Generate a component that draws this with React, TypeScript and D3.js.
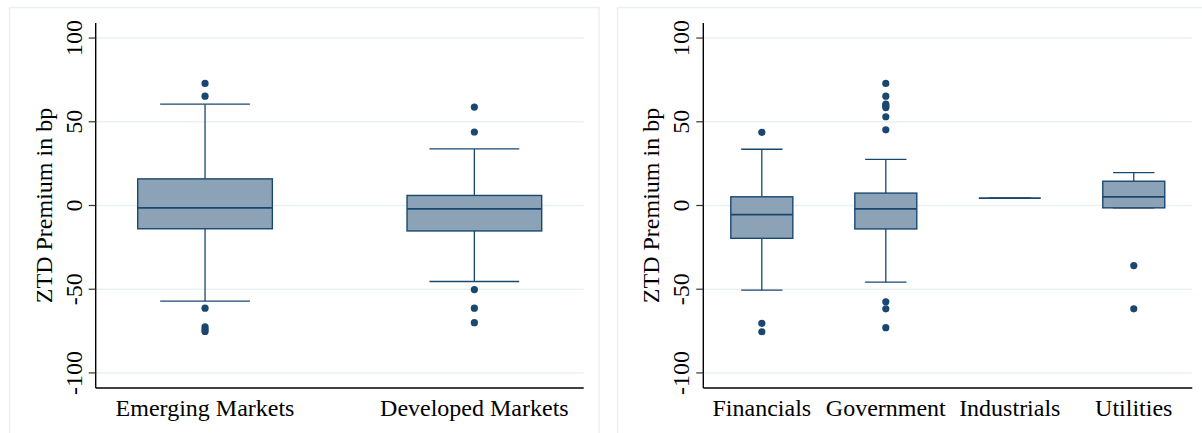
import React from 'react';
import { scaleLinear, scalePoint } from 'd3';

const width = 1202;
const height = 433;

// region split
const regionCats = ['Emerging Markets', 'Developed Markets'];
const regionQ1 = [-13.9, -15.2];
const regionMedian = [-1.4, -2];
const regionQ3 = [15.9, 6];
const regionLow = [-57.1, -45.4];
const regionHigh = [60.5, 33.8];
const regionOutliers = [
  [72.9, 65.3, -61.3, -72.5, -74, -75.2],
  [58.8, 43.9, -50.2, -61.3, -70],
];

// sector split
const sectorCats = ['Financials', 'Government', 'Industrials', 'Utilities'];
const sectorQ1 = [-19.6, -14, 4.4, -1.4];
const sectorMedian = [-5.4, -2, 4.4, 5.2];
const sectorQ3 = [5.2, 7.4, 4.4, 14.5];
const sectorLow = [-50.6, -45.8, 4.4, -1.4];
const sectorHigh = [33.6, 27.6, 4.4, 19.6];
const sectorOutliers = [
  [43.7, -70.4, -75.4],
  [72.9, 65.3, 60.5, 59.5, 58.5, 53, 45.2, -57.5, -61.7, -73],
  [],
  [-35.9, -61.7],
];

const yTicks = [-100, -50, 0, 50, 100];
const yTitle = 'ZTD Premium in bp';

const navy = '#1a476f';
const boxFill = '#8ca3b7';
const gridColor = '#eaf1f3';
const font = '"Liberation Serif", "Times New Roman", serif';

const plotTop = 23;
const plotBottom = 388;

type PanelProps = {
  frameX: number;
  frameW: number;
  left: number;
  right: number;
  pad: number;
  cats: string[];
  q1: number[];
  med: number[];
  q3: number[];
  lo: number[];
  hi: number[];
  out: number[][];
};

function Panel({ frameX, frameW, left, right, pad, cats, q1, med, q3, lo, hi, out }: PanelProps) {
  const y = scaleLinear().domain([-109, 109]).range([plotBottom, plotTop]);
  const x = scalePoint().domain(cats).range([left, right]).padding(pad);
  const boxW = x.step() * 0.5;
  const capW = boxW * 2 / 3;

  return (
    <g>
      <rect x={frameX} y={7.5} width={frameW} height={440} fill="white" stroke={gridColor} strokeWidth={1.5} />
      {yTicks.map(t => (
        <line key={'g' + t} x1={left} x2={right} y1={y(t)} y2={y(t)} stroke={gridColor} strokeWidth={1.5} />
      ))}
      {cats.map((c, i) => {
        const cx = x(c)!;
        return (
          <g key={c}>
            <line x1={cx} x2={cx} y1={y(hi[i])} y2={y(q3[i])} stroke={navy} strokeWidth={1.3} />
            <line x1={cx} x2={cx} y1={y(q1[i])} y2={y(lo[i])} stroke={navy} strokeWidth={1.3} />
            <line x1={cx - capW / 2} x2={cx + capW / 2} y1={y(hi[i])} y2={y(hi[i])} stroke={navy} strokeWidth={1.3} />
            <line x1={cx - capW / 2} x2={cx + capW / 2} y1={y(lo[i])} y2={y(lo[i])} stroke={navy} strokeWidth={1.3} />
            <rect
              x={cx - boxW / 2}
              y={y(q3[i])}
              width={boxW}
              height={y(q1[i]) - y(q3[i])}
              fill={boxFill}
              stroke={navy}
              strokeWidth={1.4}
            />
            <line x1={cx - boxW / 2} x2={cx + boxW / 2} y1={y(med[i])} y2={y(med[i])} stroke={navy} strokeWidth={1.8} />
            {out[i].map((v, j) => (
              <circle key={j} cx={cx} cy={y(v)} r={3.6} fill={navy} />
            ))}
          </g>
        );
      })}
      <line x1={left} x2={left} y1={plotTop} y2={plotBottom} stroke="#000" strokeWidth={1.4} />
      <line x1={left} x2={right} y1={plotBottom} y2={plotBottom} stroke="#000" strokeWidth={1.4} />
      {yTicks.map(t => (
        <g key={'t' + t}>
          <line x1={left - 7} x2={left} y1={y(t)} y2={y(t)} stroke="#333" strokeWidth={1.2} />
          <text
            transform={`translate(${left - 14},${y(t)}) rotate(-90)`}
            textAnchor="middle"
            fontFamily={font}
            fontSize={24}
            fill="#000"
          >
            {t}
          </text>
        </g>
      ))}
      <text
        transform={`translate(${left - 44},${(plotTop + plotBottom) / 2}) rotate(-90)`}
        textAnchor="middle"
        fontFamily={font}
        fontSize={24}
        fill="#000"
      >
        {yTitle}
      </text>
      {cats.map(c => (
        <text key={'l' + c} x={x(c)} y={416} textAnchor="middle" fontFamily={font} fontSize={24} fill="#000">
          {c}
        </text>
      ))}
    </g>
  );
}

function App() {
  return (
    <svg
      width={width}
      height={height}
      style={{ position: 'absolute', left: 0, top: 0, background: 'white' }}
    >
      <Panel
        frameX={9.5}
        frameW={589.5}
        left={95.7}
        right={583.7}
        pad={0.406}
        cats={regionCats}
        q1={regionQ1}
        med={regionMedian}
        q3={regionQ3}
        lo={regionLow}
        hi={regionHigh}
        out={regionOutliers}
      />
      <Panel
        frameX={617.5}
        frameW={600}
        left={703.3}
        right={1192.3}
        pad={0.472}
        cats={sectorCats}
        q1={sectorQ1}
        med={sectorMedian}
        q3={sectorQ3}
        lo={sectorLow}
        hi={sectorHigh}
        out={sectorOutliers}
      />
    </svg>
  );
}

export default App;
